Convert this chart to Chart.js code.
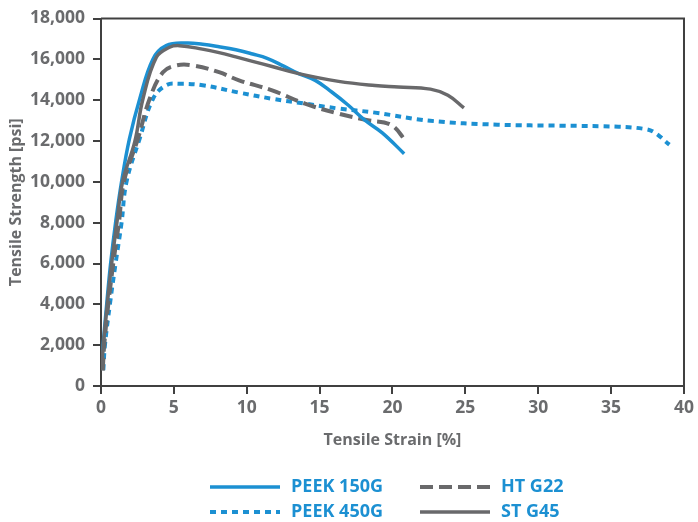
<!DOCTYPE html>
<html>
<head>
<meta charset="utf-8">
<script src="https://cdn.jsdelivr.net/npm/chart.js@4"></script>
<style>
  body { margin: 0; background: #fff; }
  canvas { display: block; }
</style>
</head>
<body>
<canvas id="graph_tensile" width="698" height="522"></canvas>
<script>
// strain [%] / strength [psi]
const peek150Strain = [0, 0.14, 0.39, 0.66, 1.0, 1.41, 1.95, 2.66, 3.57, 4.47, 5.84, 6.97, 8.1, 9.25, 10.4, 11.4, 12.5, 13.56, 14.7, 15.83, 16.97, 18.1, 19.3, 20.8];
const peek150Stress = [900, 2000, 4000, 6000, 8000, 10000, 12100, 14070, 16020, 16670, 16800, 16740, 16620, 16470, 16260, 16050, 15680, 15300, 14970, 14400, 13750, 13020, 12400, 11380];

const peek450Strain = [0.16, 0.27, 0.61, 1.0, 1.41, 1.75, 2.66, 3.57, 4.47, 5.38, 6.97, 9.47, 11.74, 14.0, 16.3, 18.8, 22.6, 27.2, 31.7, 35.5, 37.2, 37.9, 39.0];
const peek450Stress = [780, 2000, 4000, 6000, 8000, 10000, 12130, 14070, 14730, 14800, 14730, 14370, 14070, 13830, 13590, 13390, 12990, 12800, 12750, 12700, 12600, 12450, 11820];

const htg22Strain = [0.12, 0.22, 0.5, 0.84, 1.23, 1.57, 2.54, 3.34, 4.25, 5.16, 6.3, 8.1, 9.47, 11.74, 14.0, 16.3, 18.3, 19.9, 20.9];
const htg22Stress = [750, 2000, 4000, 6000, 8000, 10000, 12130, 14070, 15370, 15700, 15700, 15370, 14970, 14480, 13830, 13340, 13020, 12790, 12020];

const stg45Strain = [0.05, 0.16, 0.43, 0.73, 1.09, 1.48, 2.32, 2.88, 3.8, 4.7, 5.38, 6.95, 8.1, 9.25, 10.4, 11.74, 13.56, 16.3, 18.8, 20.4, 22.6, 23.8, 24.9];
const stg45Stress = [850, 2000, 4000, 6000, 8000, 10000, 11970, 14070, 16100, 16590, 16670, 16500, 16330, 16120, 15900, 15650, 15300, 14920, 14720, 14650, 14540, 14240, 13620];

const xTicks = [0, 5, 10, 15, 20, 25, 30, 35, 40];
const yTicks = [0, 2000, 4000, 6000, 8000, 10000, 12000, 14000, 16000, 18000];

const blue = '#1c90d2';
const grey = '#69696b';
const textGrey = '#6a6b6d';
const axisGrey = '#404040';
const fontFamily = '"Open Sans", "Noto Sans", sans-serif';

function points(xs, ys) {
  return xs.map((x, i) => ({ x: x, y: ys[i] }));
}

// legend slots: [column, row]
const legendSlots = [[0, 0], [0, 1], [1, 0], [1, 1]];

const boxLegend = {
  id: 'boxLegend',
  afterDraw(chart) {
    const ctx = chart.ctx;
    const area = chart.chartArea;
    ctx.save();
    // top and right frame lines
    ctx.strokeStyle = axisGrey;
    ctx.lineWidth = 2;
    ctx.setLineDash([]);
    ctx.beginPath();
    ctx.moveTo(area.left, area.top);
    ctx.lineTo(area.right, area.top);
    ctx.lineTo(area.right, area.bottom);
    ctx.stroke();

    // two-column legend under the axis
    const colX = [210, 420];
    const rowY = [487, 512];
    ctx.font = 'bold 18px ' + fontFamily;
    ctx.textBaseline = 'middle';
    ctx.textAlign = 'left';
    chart.data.datasets.forEach((ds, i) => {
      const [c, r] = legendSlots[i];
      const x = colX[c], y = rowY[r];
      ctx.strokeStyle = ds.borderColor;
      ctx.lineWidth = ds.borderWidth;
      ctx.setLineDash(ds.borderDash || []);
      ctx.beginPath();
      ctx.moveTo(x, y);
      ctx.lineTo(x + 70, y);
      ctx.stroke();
      ctx.setLineDash([]);
      ctx.fillStyle = blue;
      ctx.fillText(ds.label, x + 81, y);
    });
    ctx.restore();
  }
};

document.addEventListener('DOMContentLoaded', function () {
  const ctx = document.getElementById('graph_tensile').getContext('2d');

  const data = {
    datasets: [
      {
        label: 'PEEK 150G',
        data: points(peek150Strain, peek150Stress),
        borderColor: blue,
        borderWidth: 3.5,
        order: 1,
      },
      {
        label: 'PEEK 450G',
        data: points(peek450Strain, peek450Stress),
        borderColor: blue,
        borderWidth: 4,
        borderDash: [6, 5],
        order: 3,
      },
      {
        label: 'HT G22',
        data: points(htg22Strain, htg22Stress),
        borderColor: grey,
        borderWidth: 4,
        borderDash: [13, 6],
        order: 2,
      },
      {
        label: 'ST G45',
        data: points(stg45Strain, stg45Stress),
        borderColor: grey,
        borderWidth: 3.5,
        order: 0,
      }
    ]
  };

  const tickFont = { family: fontFamily, size: 17.5, weight: 'bold' };
  const titleFont = { family: fontFamily, size: 16, weight: 'bold' };

  const config = {
    type: 'line',
    data: data,
    options: {
      responsive: false,
      animation: false,
      devicePixelRatio: 1,
      layout: { padding: { left: 0, right: 10, top: 16, bottom: 60 } },
      elements: {
        point: { radius: 0 },
        line: { tension: 0.4, fill: false, borderCapStyle: 'butt' }
      },
      plugins: {
        legend: { display: false },
        tooltip: { enabled: false }
      },
      scales: {
        x: {
          type: 'linear',
          min: 0,
          max: 40,
          afterBuildTicks: s => { s.ticks = xTicks.map(v => ({ value: v })); },
          afterFit: s => { s.height = 76; },
          ticks: { color: textGrey, font: tickFont, padding: 4, maxRotation: 0 },
          grid: { drawOnChartArea: false, color: axisGrey, lineWidth: 2, tickLength: 8 },
          border: { color: axisGrey, width: 2 },
          title: {
            display: true,
            text: 'Tensile Strain [%]',
            color: textGrey,
            font: titleFont,
            padding: { top: 0, bottom: 12 }
          }
        },
        y: {
          type: 'linear',
          min: 0,
          max: 18000,
          afterBuildTicks: s => { s.ticks = yTicks.map(v => ({ value: v })); },
          afterFit: s => { s.width = 101; },
          ticks: {
            color: textGrey,
            font: tickFont,
            padding: 8,
            callback: v => v.toLocaleString('en-US')
          },
          grid: { drawOnChartArea: false, color: axisGrey, lineWidth: 2, tickLength: 8 },
          border: { color: axisGrey, width: 2 },
          title: {
            display: true,
            text: 'Tensile Strength [psi]',
            color: textGrey,
            font: titleFont,
            padding: { top: 7, bottom: 0 }
          }
        }
      }
    },
    plugins: [boxLegend]
  };

  const tensileChart = new Chart(ctx, config);
});
</script>
</body>
</html>
